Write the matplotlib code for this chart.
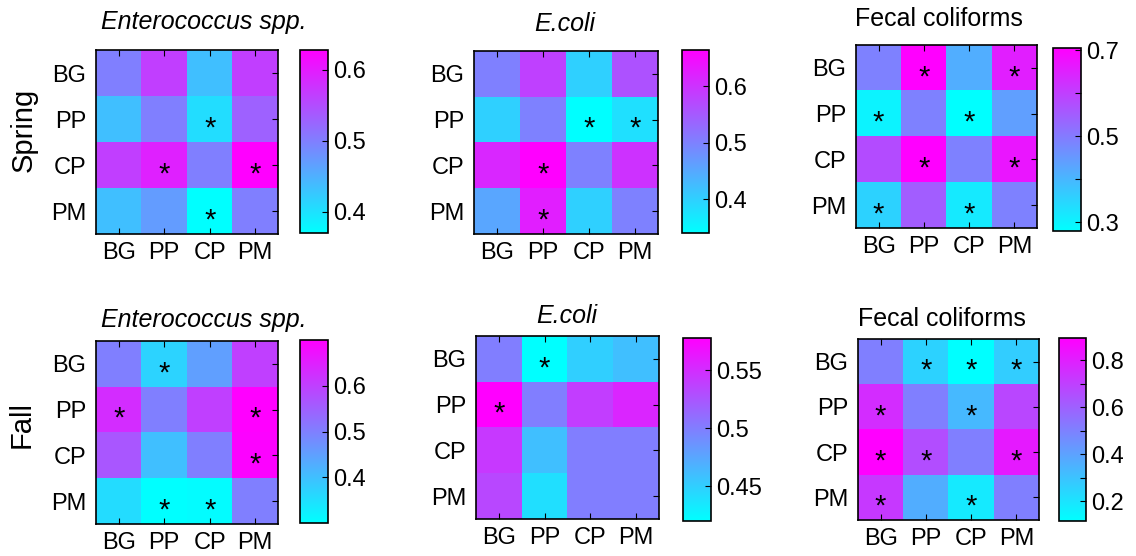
import numpy as np
import matplotlib
matplotlib.use('Agg')
import matplotlib.pyplot as plt
from matplotlib.ticker import MultipleLocator

plt.rcParams['font.family'] = ['Liberation Sans', 'DejaVu Sans']

sites = ['BG', 'PP', 'CP', 'PM']
titles = ['Enterococcus spp.', 'E.coli', 'Fecal coliforms']
title_italic = [True, True, False]
seasons = ['Spring', 'Fall']

# values (rows = BG, PP, CP, PM)
spring_entero = [[0.50, 0.565, 0.435, 0.565],
                 [0.435, 0.50, 0.405, 0.53],
                 [0.565, 0.595, 0.50, 0.628],
                 [0.435, 0.47, 0.37, 0.50]]
spring_ecoli = [[0.502, 0.583, 0.40, 0.56],
                [0.40, 0.50, 0.34, 0.38],
                [0.615, 0.664, 0.50, 0.60],
                [0.453, 0.625, 0.40, 0.50]]
spring_fecal = [[0.49, 0.705, 0.415, 0.655],
                [0.30, 0.49, 0.28, 0.44],
                [0.58, 0.705, 0.49, 0.67],
                [0.355, 0.55, 0.315, 0.49]]
fall_entero = [[0.50, 0.37, 0.45, 0.60],
               [0.63, 0.50, 0.60, 0.70],
               [0.565, 0.40, 0.50, 0.695],
               [0.355, 0.30, 0.305, 0.50]]
fall_ecoli = [[0.50, 0.42, 0.45, 0.46],
              [0.578, 0.50, 0.54, 0.555],
              [0.543, 0.46, 0.50, 0.50],
              [0.534, 0.44, 0.50, 0.50]]
fall_fecal = [[0.505, 0.255, 0.115, 0.27],
              [0.76, 0.505, 0.33, 0.68],
              [0.895, 0.66, 0.505, 0.815],
              [0.72, 0.365, 0.18, 0.505]]

# significant cells (row, col)
spring_entero_sig = [(1, 2), (2, 1), (2, 3), (3, 2)]
spring_ecoli_sig = [(1, 2), (1, 3), (2, 1), (3, 1)]
spring_fecal_sig = [(0, 1), (0, 3), (1, 0), (1, 2), (2, 1), (2, 3), (3, 0), (3, 2)]
fall_entero_sig = [(0, 1), (1, 0), (1, 3), (2, 3), (3, 1), (3, 2)]
fall_ecoli_sig = [(0, 1), (1, 0)]
fall_fecal_sig = [(0, 1), (0, 2), (0, 3), (1, 0), (1, 2), (2, 0), (2, 1), (2, 3), (3, 0), (3, 2)]

cbar_ticks = [[[0.4, 0.5, 0.6], [0.4, 0.5, 0.6], [0.3, 0.5, 0.7]],
              [[0.4, 0.5, 0.6], [0.45, 0.5, 0.55], [0.2, 0.4, 0.6, 0.8]]]
cbar_labels = [[['0.4', '0.5', '0.6'], ['0.4', '0.5', '0.6'], ['0.3', '0.5', '0.7']],
               [['0.4', '0.5', '0.6'], ['0.45', '0.5', '0.55'], ['0.2', '0.4', '0.6', '0.8']]]

data = [[spring_entero, spring_ecoli, spring_fecal],
        [fall_entero, fall_ecoli, fall_fecal]]
sig = [[spring_entero_sig, spring_ecoli_sig, spring_fecal_sig],
       [fall_entero_sig, fall_ecoli_sig, fall_fecal_sig]]

# layout in pixels (x0, y0, x1, y1), y measured from top
W, H = 1136, 556
heat_boxes = [[(96, 50, 278, 234), (474, 51, 658, 234), (856, 45, 1037, 228)],
              [(96, 341, 278, 524), (476, 336, 659, 519), (858, 339, 1039, 520)]]
cbar_boxes = [[(300, 50, 328, 233), (682, 50, 709, 233), (1053, 48, 1081, 231)],
              [(300, 340, 328, 523), (683, 338, 711, 521), (1059, 338, 1086, 521)]]
title_pos = [[(204, 29), (565, 31), (939, 26)],
             [(204, 327), (567, 323), (942, 326)]]
season_pos = [(24, 130), (22, 425)]


def px_box(b):
    x0, y0, x1, y1 = b
    return [x0 / W, 1 - y1 / H, (x1 - x0) / W, (y1 - y0) / H]


fig = plt.figure(figsize=(W / 100, H / 100), dpi=100)

for r in range(2):
    for c in range(3):
        vals = np.array(data[r][c])
        ax = fig.add_axes(px_box(heat_boxes[r][c]))
        im = ax.imshow(vals, cmap='cool', vmin=vals.min(), vmax=vals.max(),
                       aspect='auto', interpolation='nearest')
        ax.set_xticks(range(4))
        ax.set_xticklabels(sites)
        ax.set_yticks(range(4))
        ax.set_yticklabels(sites)
        ax.tick_params(direction='in', length=4, width=0.8, labelsize=17,
                       top=True, right=True, left=False,
                       labelleft=True, labelbottom=True)
        ax.tick_params(axis='x', pad=6)
        ax.tick_params(axis='y', pad=7)
        for sp in ax.spines.values():
            sp.set_linewidth(1.2)
        for (i, j) in sig[r][c]:
            ax.text(j, i + 0.38, '*', ha='center', va='baseline',
                    fontsize=21, color='black')

        cax = fig.add_axes(px_box(cbar_boxes[r][c]))
        cb = fig.colorbar(im, cax=cax)
        cb.set_ticks(cbar_ticks[r][c])
        cb.set_ticklabels(cbar_labels[r][c])
        if c == 2:
            cax.yaxis.set_minor_locator(MultipleLocator(0.1))
        cax.tick_params(which='both', direction='in', length=4, width=0.8,
                        labelsize=17, pad=4)
        cb.outline.set_linewidth(1.2)

        tx, ty = title_pos[r][c]
        fig.text(tx / W, 1 - ty / H, titles[c], ha='center', va='baseline',
                 fontsize=18, style='italic' if title_italic[c] else 'normal')

for r in range(2):
    sx, sy = season_pos[r]
    fig.text(sx / W, 1 - sy / H, seasons[r], rotation=90, ha='center',
             va='center', fontsize=21)

fig.savefig('out.png', dpi=100)
